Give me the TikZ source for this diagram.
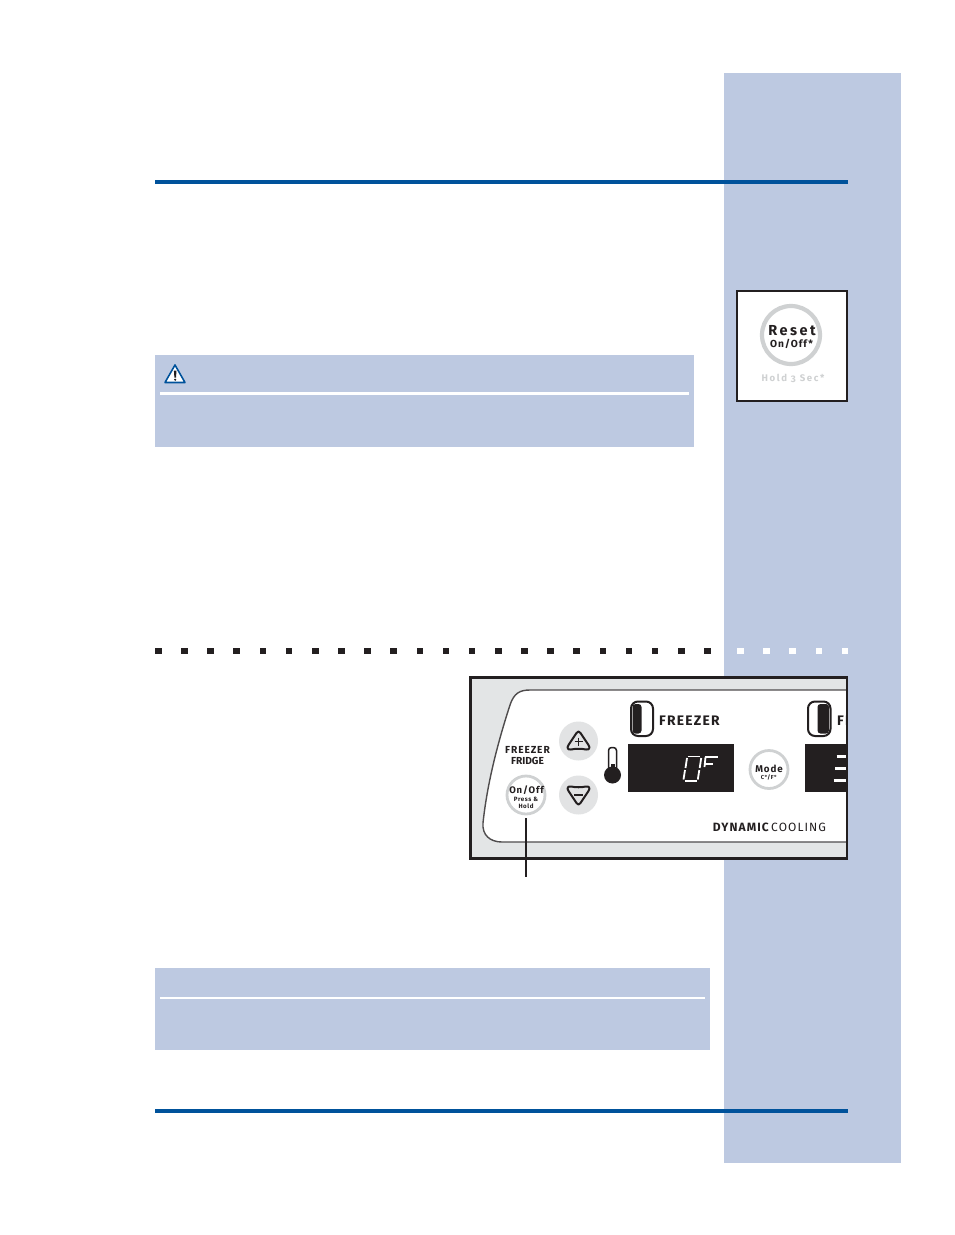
\documentclass[tikz,border=0pt]{standalone}
\usepackage{fontspec}
\setmainfont{Fira Sans}
\newfontfamily\lab[LetterSpace=9,UprightFont=*,BoldFont=* Bold,Numbers=OldStyle]{Fira Sans}
\newfontfamily\labx[LetterSpace=17,UprightFont=*,BoldFont=* Bold,Numbers=OldStyle]{Fira Sans}
\newcommand{\lb}{\lab\bfseries}
\newcommand{\lx}{\labx\bfseries}
\definecolor{side}{HTML}{BDC9E1}
\definecolor{rule}{HTML}{00529B}
\definecolor{ink}{HTML}{231F20}
\definecolor{ring}{HTML}{CFD1D2}
\definecolor{pale}{HTML}{E3E5E6}
\definecolor{btn}{HTML}{E2E3E4}
\tikzset{
 band/.style={fill=side,draw=none},
 hrule/.style={draw=rule,line width=3.6},
 wline/.style={draw=white,line width=#1},
 sq/.style={fill=#1,draw=none,minimum size=6.6,inner sep=0,rectangle},
 roundbtn/.style={circle,draw=ring,fill=white,line width=2.8,minimum size=38,inner sep=0},
 grey/.style={circle,fill=btn,draw=none,minimum size=39,inner sep=0},
 seg/.style={draw=white,line width=1.8},
 txt/.style={inner sep=0,text=ink,align=center},
 icon/.style={draw=ink,line width=2,line join=round},
}
\begin{document}
\begin{tikzpicture}[x=1pt,y=-1pt]
\useasboundingbox (0,0) rectangle (954,1235);
\fill[white] (0,0) rectangle (954,1235);
\fill[band] (724,73) rectangle (901,1163);
\draw[hrule] (155,182) -- (848,182);
\draw[hrule] (155,1111) -- (848,1111);
% reset box
\node[draw=ink,line width=2.2,fill=white,minimum size=109.5,inner sep=0] (resetbox) at (792,346) {};
\node[circle,draw=ring,fill=white,line width=4.2,minimum size=58,inner sep=0] (reset) at (791,335) {};
\node[txt,font=\lx\fontsize{14.5}{15}\selectfont] (resett) at (792,331) {Reset};
\node[txt,font=\lb\fontsize{10.2}{10}\selectfont] (onoff) at (791.5,343.5) {On/Off*};
\node[txt,text=ring,font=\lx\fontsize{9.6}{10}\selectfont] (hold) at (793,378) {Hold 3 Sec*};
% warning band
\fill[band] (155,355) rectangle (694,447);
\draw[wline=3] (160,393.5) -- (689,393.5);
\draw[draw=rule,fill=white,line width=1.6,line join=round] (175,365) -- (185,382.5) -- (165,382.5) -- cycle;
\fill[ink] (173.9,370.5) -- (176.5,370.5) -- (176,377.5) -- (174.4,377.5) -- cycle;
\fill[ink] (175.2,379.7) circle (1.2);
% dotted rule
\foreach \i in {0,...,21} \node[sq=ink] at ({158.3+26.15*\i},651) {};
\foreach \i in {0,...,4} \node[sq=white] at ({740.5+26.1*\i},651) {};
% panel
\begin{scope}
\clip (470,677) rectangle (847,859);
\fill[pale] (470,677) rectangle (848,859);
\draw[fill=white,draw=ink!80,line width=1.4] (850,690) -- (530,690) .. controls (520,690) and (514,693) .. (510,705) .. controls (497,745) and (487,785) .. (483,823) .. controls (482,835) and (490,842) .. (502,842) -- (850,842);
\fill[ink] (805,744) rectangle (846,792);
\draw[seg,line width=2.2] (836.5,756.5) -- (846,756.5);
\draw[seg,line width=2.2] (835,768.5) -- (846,768.5);
\draw[seg,line width=2.2] (833.5,780.5) -- (846,780.5);
\node[txt,anchor=west,font=\lb\fontsize{13.8}{14}\selectfont] (fr2) at (837,721) {FR};
\end{scope}
\draw[ink,line width=3] (470.5,677.5) -- (847,677.5) (470.5,858.7) -- (847,858.7) (470.5,676) -- (470.5,860.2);
\draw[ink,line width=2.4] (847,676) -- (847,860.2);
% doors
\draw[ink,line width=2,fill=white,rounded corners=7] (631,701.5) rectangle (653,736);
\fill[ink,rounded corners=3] (632.5,704) -- (641.5,704) -- (641.5,733.5) -- (632.5,733.5) -- cycle;
\draw[ink,line width=2,fill=white,rounded corners=7] (808,701.5) rectangle (830.5,736);
\fill[ink,rounded corners=3] (817.5,704) -- (829,704) -- (829,733.5) -- (817.5,733.5) -- cycle;
\node[txt,anchor=west,font=\lb\fontsize{13.8}{14}\selectfont] (freezer) at (659,721) {FREEZER};
% buttons
\node[grey] (plus) at (578.5,741) {};
\node[grey] (minus) at (578.5,795) {};
\draw[icon] (576.5,733) .. controls (577.5,731) and (579.5,731) .. (580.5,733) -- (588.5,745) .. controls (590.5,748) and (589,750) .. (586,749.5) .. controls (581,748.5) and (576,748.5) .. (571,749.5) .. controls (568,750) and (566.5,748) .. (568.5,745) -- cycle;
\draw[ink,line width=1.3] (574.5,741.5) -- (582.5,741.5) (578.5,737.5) -- (578.5,745.5);
\draw[icon] (576.5,803) .. controls (577.5,805) and (579.5,805) .. (580.5,803) -- (588.5,791) .. controls (590.5,788) and (589,786) .. (586,786.5) .. controls (581,787.5) and (576,787.5) .. (571,786.5) .. controls (568,786) and (566.5,788) .. (568.5,791) -- cycle;
\draw[ink,line width=1.5] (574,795) -- (583,795);
\node[txt,font=\lb\fontsize{10.2}{11.3}\selectfont] (ff) at (527.5,749.5) {FREEZER};
\node[txt,font=\bfseries\fontsize{10.2}{11.3}\selectfont] (fg) at (527.5,760.5) {FRIDGE};
% on/off
\node[roundbtn] (onbtn) at (526,795) {};
\node[txt,font=\lb\fontsize{9.5}{9}\selectfont] (ont) at (526.5,790.5) {On/Off};
\node[txt,font=\lb\fontsize{6.2}{7}\selectfont] (pr) at (526,802.5) {Press \&\\Hold};
\coordinate (leadend) at (526,877);
\draw[ink,line width=2] (526,818) -- (leadend);
% thermometer
\draw[ink,line width=1.5,fill=white,rounded corners=3] (608.5,770) -- (608.5,747.5) -- (616.5,747.5) -- (616.5,770);
\fill[ink] (612.5,775) circle (8.5);
\fill[ink] (610.5,764) rectangle (614.5,772);
% display
\node[fill=ink,minimum width=106,minimum height=48,inner sep=0] (disp) at (681,768) {};
\draw[seg] (687.5,756.5) -- (700,756.5);
\draw[seg] (701.2,758) -- (699.7,768);
\draw[seg] (699.3,770) -- (697.8,779.5);
\draw[seg] (684.5,781) -- (696.5,781);
\draw[seg] (683.5,779.5) -- (685,770);
\draw[seg] (685.5,768) -- (687,758);
\draw[seg,line width=2] (705,757.2) -- (717.5,757.2) (704.5,763.5) -- (713,763.5);
\draw[seg,line width=1.8] (705.5,757) -- (704.5,767);
% mode
\node[roundbtn] (mode) at (769,769.5) {};
\node[txt,font=\lb\fontsize{9.8}{9}\selectfont] (mt) at (769,769) {Mode};
\node[txt,font=\lb\fontsize{5.8}{6}\selectfont] (mc) at (769,777) {C°/F°};
\node[txt,anchor=east,font=\lb\fontsize{12}{12}\selectfont] (dyn) at (769,827.5) {DYNAMIC};
\node[txt,anchor=west,font=\lab\fontsize{12}{12}\selectfont] (cool) at (771,827.5) {COOLING};
% note band
\fill[band] (155,968) rectangle (710,1050);
\draw[wline=2.3] (160,998) -- (705,998);
\end{tikzpicture}
\end{document}
